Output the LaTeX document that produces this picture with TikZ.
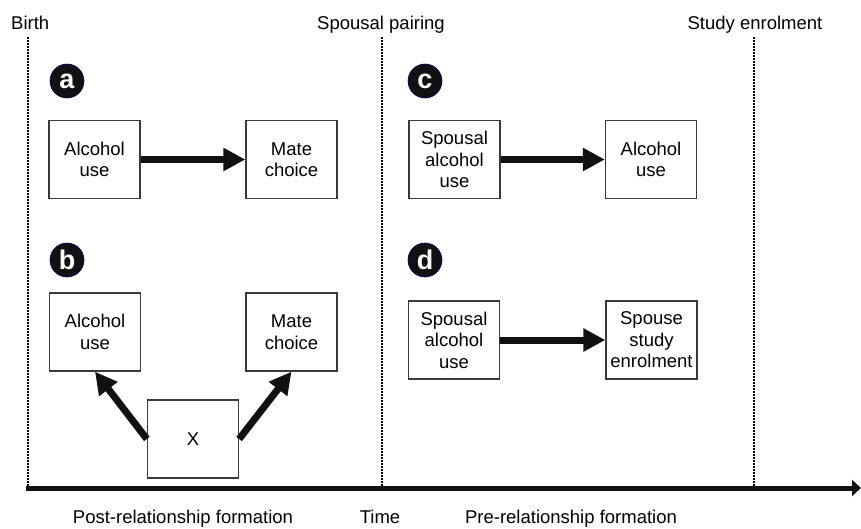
\documentclass[tikz,border=0pt]{standalone}
\usepackage{fontspec}
\setmainfont{Liberation Sans}
\usepackage{xcolor}
\usetikzlibrary{arrows.meta}
\definecolor{ink}{HTML}{111111}
\definecolor{frame}{HTML}{3A3A3A}
\tikzset{
  box/.style={draw=frame,line width=1.3pt,fill=white,minimum width=91pt,minimum height=78pt,align=center,inner sep=1pt,font=\fontsize{18.5}{21.5}\selectfont},
  badge/.style={circle,fill=ink,draw=black!60!blue,line width=0.6pt,minimum size=34pt,inner sep=0pt,text=white,font=\fontsize{27}{27}\selectfont\bfseries},
  lbl/.style={font=\fontsize{18.5}{21.5}\selectfont,inner sep=0pt,anchor=base},
  fat/.style={ink,line width=7pt,-{Triangle[length=22pt,width=22pt]}},
  milestone/.style={line width=1.6pt,dash pattern=on 1.6pt off 1.4pt}
}

\begin{document}
\begin{tikzpicture}[x=1pt,y=-1pt]
\useasboundingbox (0,0) rectangle (861,528);
% time axis
\coordinate (t0) at (26,488);
\coordinate (t1) at (861,488);
\draw[ink,line width=5pt,-{Triangle[length=9pt,width=16pt]}] (t0) -- (t1);
% milestones
\node[lbl,anchor=base west] (birth) at (11,29) {Birth};
\node[lbl] (pair) at (381,29) {Spousal pairing};
\node[lbl] (enrol) at (755,29) {Study enrolment};
\foreach \x/\n in {28/sb,382/sp,754/se}{
  \coordinate (\n top) at (\x,37);
  \coordinate (\n bot) at (\x,486);
  \draw[milestone] (\n top) -- (\n bot);
}
\node[lbl] (post) at (183,523) {Post-relationship formation};
\node[lbl] (time) at (380,523) {Time};
\node[lbl] (pre) at (571,523) {Pre-relationship formation};
% panel a
\node[badge] (pa) at (67,81) {a};
\node[box] (a1) at (94.5,159.5) {Alcohol\\use};
\node[box] (a2) at (291.5,159.5) {Mate\\choice};
\draw[fat] (a1) -- (a2);
% panel b
\node[badge] (pb) at (67,260) {b};
\node[box] (b1) at (95,332) {Alcohol\\use};
\node[box] (b2) at (291.5,332) {Mate\\choice};
\node[box] (bx) at (193,439) {X};
\draw[fat] (bx.west) -- (b1.south);
\draw[fat] (bx.east) -- (b2.south);
% panel c
\node[badge] (pc) at (425,81) {c};
\node[box] (c1) at (454.5,159.5) {Spousal\\alcohol\\use};
\node[box] (c2) at (651,159.5) {Alcohol\\use};
\draw[fat] (c1) -- (c2);
% panel d
\node[badge] (pd) at (425,260) {d};
\node[box] (d1) at (454,340) {Spousal\\alcohol\\use};
\node[box] (d2) at (651.5,340) {Spouse\\study\\enrolment};
\draw[fat] (d1) -- (d2);
\end{tikzpicture}
\end{document}
